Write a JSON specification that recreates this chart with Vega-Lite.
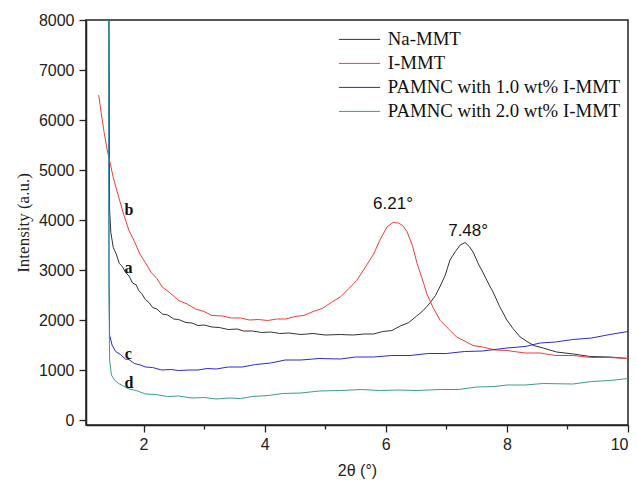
{
  "$schema": "https://vega.github.io/schema/vega-lite/v6.json",
  "width": 542,
  "height": 405,
  "autosize": "none",
  "padding": {"left": 86, "top": 20, "right": 9, "bottom": 58},
  "background": "white",
  "config": {
    "view": {"stroke": "#222", "strokeWidth": 1.5},
    "axis": {
      "domainColor": "#222", "domainWidth": 1.5, "tickColor": "#222", "tickWidth": 1.3,
      "labelFont": "Liberation Sans", "labelFontSize": 16, "labelColor": "#222",
      "titleFont": "Liberation Serif", "titleFontWeight": "normal", "titleColor": "#222", "grid": false
    }
  },
  "datasets": {
    "xrd": [
      {"s":"Na-MMT","x":1.42,"y":12000},{"s":"Na-MMT","x":1.44,"y":4200},{"s":"Na-MMT","x":1.46,"y":3750},{"s":"Na-MMT","x":1.5,"y":3450},{"s":"Na-MMT","x":1.55,"y":3320},{"s":"Na-MMT","x":1.6,"y":3130},{"s":"Na-MMT","x":1.65,"y":3070},{"s":"Na-MMT","x":1.7,"y":2960},{"s":"Na-MMT","x":1.76,"y":2880},{"s":"Na-MMT","x":1.82,"y":2740},{"s":"Na-MMT","x":1.88,"y":2700},{"s":"Na-MMT","x":1.92,"y":2590},{"s":"Na-MMT","x":1.97,"y":2530},{"s":"Na-MMT","x":2.03,"y":2410},{"s":"Na-MMT","x":2.09,"y":2350},{"s":"Na-MMT","x":2.15,"y":2250},{"s":"Na-MMT","x":2.22,"y":2220},{"s":"Na-MMT","x":2.31,"y":2120},{"s":"Na-MMT","x":2.4,"y":2100},{"s":"Na-MMT","x":2.5,"y":2020},{"s":"Na-MMT","x":2.58,"y":2010},{"s":"Na-MMT","x":2.7,"y":1950},{"s":"Na-MMT","x":2.8,"y":1940},{"s":"Na-MMT","x":2.9,"y":1890},{"s":"Na-MMT","x":3.0,"y":1900},{"s":"Na-MMT","x":3.13,"y":1860},{"s":"Na-MMT","x":3.25,"y":1850},{"s":"Na-MMT","x":3.4,"y":1810},{"s":"Na-MMT","x":3.55,"y":1820},{"s":"Na-MMT","x":3.65,"y":1780},{"s":"Na-MMT","x":3.8,"y":1780},{"s":"Na-MMT","x":3.95,"y":1750},{"s":"Na-MMT","x":4.1,"y":1760},{"s":"Na-MMT","x":4.25,"y":1730},{"s":"Na-MMT","x":4.4,"y":1740},{"s":"Na-MMT","x":4.6,"y":1710},{"s":"Na-MMT","x":4.8,"y":1730},{"s":"Na-MMT","x":5.0,"y":1700},{"s":"Na-MMT","x":5.25,"y":1710},{"s":"Na-MMT","x":5.45,"y":1700},{"s":"Na-MMT","x":5.65,"y":1720},{"s":"Na-MMT","x":5.8,"y":1720},{"s":"Na-MMT","x":5.95,"y":1770},{"s":"Na-MMT","x":6.1,"y":1790},{"s":"Na-MMT","x":6.24,"y":1880},{"s":"Na-MMT","x":6.38,"y":1950},{"s":"Na-MMT","x":6.51,"y":2080},{"s":"Na-MMT","x":6.62,"y":2190},{"s":"Na-MMT","x":6.73,"y":2340},{"s":"Na-MMT","x":6.82,"y":2490},{"s":"Na-MMT","x":6.9,"y":2680},{"s":"Na-MMT","x":6.98,"y":2890},{"s":"Na-MMT","x":7.06,"y":3200},{"s":"Na-MMT","x":7.15,"y":3370},{"s":"Na-MMT","x":7.23,"y":3500},{"s":"Na-MMT","x":7.31,"y":3550},{"s":"Na-MMT","x":7.38,"y":3470},{"s":"Na-MMT","x":7.45,"y":3340},{"s":"Na-MMT","x":7.53,"y":3120},{"s":"Na-MMT","x":7.61,"y":2940},{"s":"Na-MMT","x":7.7,"y":2720},{"s":"Na-MMT","x":7.78,"y":2540},{"s":"Na-MMT","x":7.88,"y":2270},{"s":"Na-MMT","x":8.0,"y":2000},{"s":"Na-MMT","x":8.1,"y":1830},{"s":"Na-MMT","x":8.22,"y":1660},{"s":"Na-MMT","x":8.32,"y":1580},{"s":"Na-MMT","x":8.44,"y":1490},{"s":"Na-MMT","x":8.6,"y":1440},{"s":"Na-MMT","x":8.82,"y":1360},{"s":"Na-MMT","x":9.1,"y":1320},{"s":"Na-MMT","x":9.37,"y":1270},{"s":"Na-MMT","x":9.7,"y":1260},{"s":"Na-MMT","x":10.0,"y":1230},
      {"s":"I-MMT","x":1.26,"y":6500},{"s":"I-MMT","x":1.3,"y":6150},{"s":"I-MMT","x":1.35,"y":5750},{"s":"I-MMT","x":1.4,"y":5400},{"s":"I-MMT","x":1.43,"y":5240},{"s":"I-MMT","x":1.5,"y":4850},{"s":"I-MMT","x":1.58,"y":4500},{"s":"I-MMT","x":1.67,"y":4120},{"s":"I-MMT","x":1.76,"y":3790},{"s":"I-MMT","x":1.85,"y":3570},{"s":"I-MMT","x":1.94,"y":3320},{"s":"I-MMT","x":2.03,"y":3150},{"s":"I-MMT","x":2.12,"y":2960},{"s":"I-MMT","x":2.22,"y":2830},{"s":"I-MMT","x":2.31,"y":2660},{"s":"I-MMT","x":2.44,"y":2540},{"s":"I-MMT","x":2.58,"y":2390},{"s":"I-MMT","x":2.72,"y":2320},{"s":"I-MMT","x":2.86,"y":2220},{"s":"I-MMT","x":3.0,"y":2170},{"s":"I-MMT","x":3.13,"y":2090},{"s":"I-MMT","x":3.3,"y":2080},{"s":"I-MMT","x":3.45,"y":2040},{"s":"I-MMT","x":3.6,"y":2040},{"s":"I-MMT","x":3.75,"y":2000},{"s":"I-MMT","x":3.9,"y":2010},{"s":"I-MMT","x":4.05,"y":1990},{"s":"I-MMT","x":4.2,"y":2020},{"s":"I-MMT","x":4.35,"y":2020},{"s":"I-MMT","x":4.5,"y":2070},{"s":"I-MMT","x":4.65,"y":2090},{"s":"I-MMT","x":4.8,"y":2170},{"s":"I-MMT","x":4.95,"y":2230},{"s":"I-MMT","x":5.1,"y":2350},{"s":"I-MMT","x":5.25,"y":2460},{"s":"I-MMT","x":5.4,"y":2640},{"s":"I-MMT","x":5.52,"y":2790},{"s":"I-MMT","x":5.66,"y":3050},{"s":"I-MMT","x":5.8,"y":3320},{"s":"I-MMT","x":5.9,"y":3590},{"s":"I-MMT","x":6.02,"y":3860},{"s":"I-MMT","x":6.12,"y":3950},{"s":"I-MMT","x":6.21,"y":3940},{"s":"I-MMT","x":6.28,"y":3890},{"s":"I-MMT","x":6.35,"y":3770},{"s":"I-MMT","x":6.44,"y":3490},{"s":"I-MMT","x":6.52,"y":3120},{"s":"I-MMT","x":6.6,"y":2830},{"s":"I-MMT","x":6.68,"y":2520},{"s":"I-MMT","x":6.78,"y":2250},{"s":"I-MMT","x":6.9,"y":1990},{"s":"I-MMT","x":7.03,"y":1830},{"s":"I-MMT","x":7.17,"y":1660},{"s":"I-MMT","x":7.3,"y":1580},{"s":"I-MMT","x":7.44,"y":1490},{"s":"I-MMT","x":7.6,"y":1460},{"s":"I-MMT","x":7.8,"y":1400},{"s":"I-MMT","x":8.0,"y":1390},{"s":"I-MMT","x":8.3,"y":1340},{"s":"I-MMT","x":8.55,"y":1340},{"s":"I-MMT","x":8.8,"y":1290},{"s":"I-MMT","x":9.09,"y":1290},{"s":"I-MMT","x":9.4,"y":1250},{"s":"I-MMT","x":9.7,"y":1250},{"s":"I-MMT","x":10.0,"y":1230},
      {"s":"PAMNC with 1.0 wt% I-MMT","x":1.42,"y":12000},{"s":"PAMNC with 1.0 wt% I-MMT","x":1.43,"y":3000},{"s":"PAMNC with 1.0 wt% I-MMT","x":1.44,"y":1700},{"s":"PAMNC with 1.0 wt% I-MMT","x":1.48,"y":1500},{"s":"PAMNC with 1.0 wt% I-MMT","x":1.54,"y":1370},{"s":"PAMNC with 1.0 wt% I-MMT","x":1.62,"y":1310},{"s":"PAMNC with 1.0 wt% I-MMT","x":1.7,"y":1220},{"s":"PAMNC with 1.0 wt% I-MMT","x":1.76,"y":1210},{"s":"PAMNC with 1.0 wt% I-MMT","x":1.85,"y":1130},{"s":"PAMNC with 1.0 wt% I-MMT","x":1.95,"y":1100},{"s":"PAMNC with 1.0 wt% I-MMT","x":2.03,"y":1060},{"s":"PAMNC with 1.0 wt% I-MMT","x":2.15,"y":1050},{"s":"PAMNC with 1.0 wt% I-MMT","x":2.3,"y":1000},{"s":"PAMNC with 1.0 wt% I-MMT","x":2.45,"y":1010},{"s":"PAMNC with 1.0 wt% I-MMT","x":2.58,"y":990},{"s":"PAMNC with 1.0 wt% I-MMT","x":2.75,"y":1000},{"s":"PAMNC with 1.0 wt% I-MMT","x":2.9,"y":1000},{"s":"PAMNC with 1.0 wt% I-MMT","x":3.05,"y":1030},{"s":"PAMNC with 1.0 wt% I-MMT","x":3.2,"y":1020},{"s":"PAMNC with 1.0 wt% I-MMT","x":3.4,"y":1060},{"s":"PAMNC with 1.0 wt% I-MMT","x":3.63,"y":1060},{"s":"PAMNC with 1.0 wt% I-MMT","x":3.85,"y":1110},{"s":"PAMNC with 1.0 wt% I-MMT","x":4.1,"y":1140},{"s":"PAMNC with 1.0 wt% I-MMT","x":4.34,"y":1200},{"s":"PAMNC with 1.0 wt% I-MMT","x":4.6,"y":1200},{"s":"PAMNC with 1.0 wt% I-MMT","x":4.9,"y":1230},{"s":"PAMNC with 1.0 wt% I-MMT","x":5.25,"y":1220},{"s":"PAMNC with 1.0 wt% I-MMT","x":5.5,"y":1260},{"s":"PAMNC with 1.0 wt% I-MMT","x":5.8,"y":1260},{"s":"PAMNC with 1.0 wt% I-MMT","x":6.1,"y":1290},{"s":"PAMNC with 1.0 wt% I-MMT","x":6.4,"y":1290},{"s":"PAMNC with 1.0 wt% I-MMT","x":6.7,"y":1330},{"s":"PAMNC with 1.0 wt% I-MMT","x":7.0,"y":1330},{"s":"PAMNC with 1.0 wt% I-MMT","x":7.3,"y":1370},{"s":"PAMNC with 1.0 wt% I-MMT","x":7.6,"y":1380},{"s":"PAMNC with 1.0 wt% I-MMT","x":8.0,"y":1440},{"s":"PAMNC with 1.0 wt% I-MMT","x":8.3,"y":1470},{"s":"PAMNC with 1.0 wt% I-MMT","x":8.55,"y":1540},{"s":"PAMNC with 1.0 wt% I-MMT","x":8.8,"y":1560},{"s":"PAMNC with 1.0 wt% I-MMT","x":9.09,"y":1610},{"s":"PAMNC with 1.0 wt% I-MMT","x":9.4,"y":1640},{"s":"PAMNC with 1.0 wt% I-MMT","x":9.7,"y":1710},{"s":"PAMNC with 1.0 wt% I-MMT","x":10.0,"y":1770},
      {"s":"PAMNC with 2.0 wt% I-MMT","x":1.42,"y":12000},{"s":"PAMNC with 2.0 wt% I-MMT","x":1.43,"y":2500},{"s":"PAMNC with 2.0 wt% I-MMT","x":1.44,"y":1200},{"s":"PAMNC with 2.0 wt% I-MMT","x":1.47,"y":900},{"s":"PAMNC with 2.0 wt% I-MMT","x":1.52,"y":800},{"s":"PAMNC with 2.0 wt% I-MMT","x":1.59,"y":730},{"s":"PAMNC with 2.0 wt% I-MMT","x":1.67,"y":680},{"s":"PAMNC with 2.0 wt% I-MMT","x":1.76,"y":620},{"s":"PAMNC with 2.0 wt% I-MMT","x":1.88,"y":590},{"s":"PAMNC with 2.0 wt% I-MMT","x":2.03,"y":520},{"s":"PAMNC with 2.0 wt% I-MMT","x":2.2,"y":510},{"s":"PAMNC with 2.0 wt% I-MMT","x":2.4,"y":470},{"s":"PAMNC with 2.0 wt% I-MMT","x":2.58,"y":480},{"s":"PAMNC with 2.0 wt% I-MMT","x":2.8,"y":440},{"s":"PAMNC with 2.0 wt% I-MMT","x":3.0,"y":450},{"s":"PAMNC with 2.0 wt% I-MMT","x":3.2,"y":420},{"s":"PAMNC with 2.0 wt% I-MMT","x":3.41,"y":440},{"s":"PAMNC with 2.0 wt% I-MMT","x":3.6,"y":430},{"s":"PAMNC with 2.0 wt% I-MMT","x":3.8,"y":470},{"s":"PAMNC with 2.0 wt% I-MMT","x":4.06,"y":490},{"s":"PAMNC with 2.0 wt% I-MMT","x":4.3,"y":530},{"s":"PAMNC with 2.0 wt% I-MMT","x":4.6,"y":540},{"s":"PAMNC with 2.0 wt% I-MMT","x":4.9,"y":580},{"s":"PAMNC with 2.0 wt% I-MMT","x":5.25,"y":590},{"s":"PAMNC with 2.0 wt% I-MMT","x":5.6,"y":610},{"s":"PAMNC with 2.0 wt% I-MMT","x":5.9,"y":590},{"s":"PAMNC with 2.0 wt% I-MMT","x":6.2,"y":600},{"s":"PAMNC with 2.0 wt% I-MMT","x":6.5,"y":590},{"s":"PAMNC with 2.0 wt% I-MMT","x":6.9,"y":610},{"s":"PAMNC with 2.0 wt% I-MMT","x":7.2,"y":610},{"s":"PAMNC with 2.0 wt% I-MMT","x":7.5,"y":660},{"s":"PAMNC with 2.0 wt% I-MMT","x":7.8,"y":670},{"s":"PAMNC with 2.0 wt% I-MMT","x":8.0,"y":700},{"s":"PAMNC with 2.0 wt% I-MMT","x":8.3,"y":700},{"s":"PAMNC with 2.0 wt% I-MMT","x":8.6,"y":730},{"s":"PAMNC with 2.0 wt% I-MMT","x":9.09,"y":720},{"s":"PAMNC with 2.0 wt% I-MMT","x":9.4,"y":770},{"s":"PAMNC with 2.0 wt% I-MMT","x":9.7,"y":790},{"s":"PAMNC with 2.0 wt% I-MMT","x":10.0,"y":830}
    ],
    "letters": [
      {"x":1.76,"y":4200,"t":"b"},{"x":1.75,"y":3040,"t":"a"},{"x":1.75,"y":1320,"t":"c"},{"x":1.76,"y":740,"t":"d"}
    ],
    "peaks": [
      {"x":6.12,"y":4320,"t":"6.21°"},{"x":7.36,"y":3790,"t":"7.48°"}
    ]
  },
  "layer": [
    {
      "data": {"name": "xrd"},
      "mark": {"type": "line", "clip": true, "strokeWidth": 1, "interpolate": "linear"},
      "encoding": {
        "x": {"field": "x", "type": "quantitative",
              "scale": {"domain": [1.05, 10], "nice": false, "zero": false},
              "axis": {"values": [2, 3, 4, 5, 6, 7, 8, 9, 10], "format": "d", "labelExpr": "datum.value % 2 === 0 ? datum.label : ''",
                       "tickSize": {"condition": {"test": "datum.value % 2 === 0", "value": 7}, "value": 4},
                       "labelPadding": 4, "title": "2θ (°)", "titleFont": "Liberation Sans", "titleFontSize": 16, "titlePadding": 10}},
        "y": {"field": "y", "type": "quantitative",
              "scale": {"domain": [-100, 8000], "nice": false, "zero": false},
              "axis": {"values": [0, 500, 1000, 1500, 2000, 2500, 3000, 3500, 4000, 4500, 5000, 5500, 6000, 6500, 7000, 7500, 8000],
                       "labelExpr": "datum.value % 1000 === 0 ? datum.label : ''", "format": "d",
                       "tickSize": {"condition": {"test": "datum.value % 1000 === 0", "value": 7}, "value": 4},
                       "labelPadding": 5, "title": "Intensity (a.u.)", "titleFontSize": 17, "titlePadding": 6}},
        "color": {"field": "s", "type": "nominal",
                  "scale": {"domain": ["Na-MMT", "I-MMT", "PAMNC with 1.0 wt% I-MMT", "PAMNC with 2.0 wt% I-MMT"],
                            "range": ["#333333", "#f03a3a", "#2a2ad8", "#3a9e8e"]},
                  "legend": {"title": null, "orient": "none", "legendX": 241, "legendY": 0,
                             "symbolType": "M-1,0H4.5", "symbolSize": 225, "symbolStrokeWidth": 1,
                             "labelFont": "Liberation Serif", "labelFontSize": 18.8, "labelColor": "#111", "labelLimit": 0,
                             "padding": 10, "rowPadding": 4, "labelOffset": 32}}
      }
    },
    {
      "data": {"name": "letters"},
      "mark": {"type": "text", "font": "Liberation Serif", "fontWeight": "bold", "fontSize": 16, "color": "#111"},
      "encoding": {"x": {"field": "x", "type": "quantitative"}, "y": {"field": "y", "type": "quantitative"}, "text": {"field": "t"}}
    },
    {
      "data": {"name": "peaks"},
      "mark": {"type": "text", "font": "Liberation Sans", "fontSize": 17, "color": "#111"},
      "encoding": {"x": {"field": "x", "type": "quantitative"}, "y": {"field": "y", "type": "quantitative"}, "text": {"field": "t"}}
    }
  ]
}
